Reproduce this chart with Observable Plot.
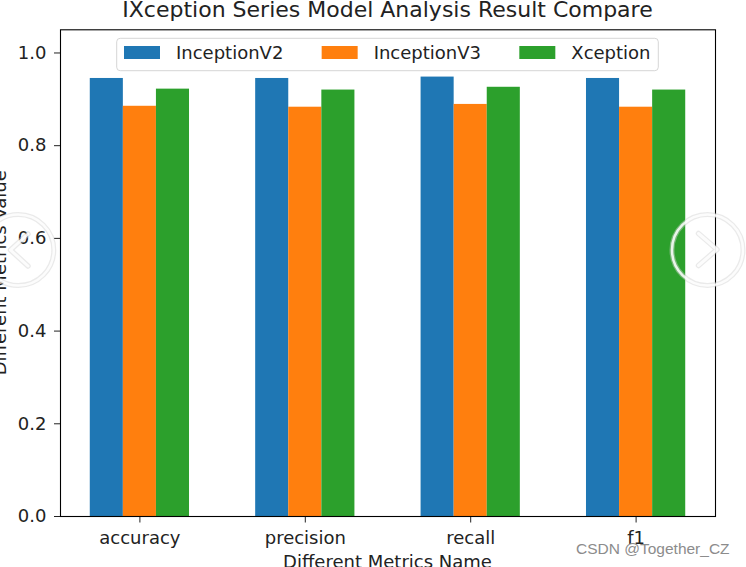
<!DOCTYPE html>
<html>
<head>
<meta charset="utf-8">
<script src="https://cdn.jsdelivr.net/npm/d3@7"></script>
<script src="https://cdn.jsdelivr.net/npm/@observablehq/plot@0.6"></script>
<style>
  html, body { margin: 0; padding: 0; background: #ffffff; }
  #wrap { position: relative; width: 746px; height: 567px; overflow: hidden; }
</style>
</head>
<body>
<div id="wrap"></div>
<script>
// ---- data ----
const metrics = ["accuracy", "precision", "recall", "f1"];
const models = ["InceptionV2", "InceptionV3", "Xception"];
const inceptionV2 = [0.945, 0.945, 0.948, 0.945];
const inceptionV3 = [0.885, 0.883, 0.889, 0.883];
const xception = [0.922, 0.920, 0.926, 0.920];
const colors = ["#1f77b4", "#ff7f0e", "#2ca02c"];
const yTicks = [0, 0.2, 0.4, 0.6, 0.8, 1.0];
const titleText = "IXception Series Model Analysis Result Compare";
const xLabel = "Different Metrics Name";
const yLabel = "Different Metrics Value";
const watermark = "CSDN @Together_CZ";

const barWidth = 0.2;
const series = [inceptionV2, inceptionV3, xception];
const rows = [];
models.forEach((m, j) => metrics.forEach((name, i) =>
  rows.push({metric: name, i, j, model: m, value: series[j][i]})));

const textColor = "#222222";

const plot = Plot.plot({
  width: 746,
  height: 567,
  marginLeft: 60,
  marginRight: 31,
  marginTop: 29.3,
  marginBottom: 51,
  style: {fontFamily: "DejaVu Sans", fontSize: "18px", color: textColor, background: "transparent", overflow: "visible"},
  x: {domain: [-0.48, 3.48], ticks: [0, 1, 2, 3], tickFormat: i => metrics[i], tickSize: 6.5, tickPadding: 8, label: null},
  y: {domain: [0, 1.05], ticks: yTicks, tickFormat: d3.format(".1f"), tickSize: 6, tickPadding: 8, label: null},
  color: {domain: models, range: colors},
  marks: [
    Plot.rectY(rows, {
      x1: d => d.i + (d.j - 1) * barWidth - barWidth / 2,
      x2: d => d.i + (d.j - 1) * barWidth + barWidth / 2,
      y1: 0,
      y2: "value",
      fill: "model",
      inset: 0
    }),
    Plot.frame({stroke: "#000000", strokeWidth: 1.1})
  ]
});

document.getElementById("wrap").appendChild(plot);
const svg = d3.select(plot);

// title
svg.append("text")
  .attr("x", 387.5).attr("y", 16.5)
  .attr("text-anchor", "middle")
  .attr("font-family", "DejaVu Sans").attr("font-size", 22)
  .attr("fill", textColor)
  .text(titleText);

// axis labels
svg.append("text")
  .attr("transform", "translate(6,272.7) rotate(-90)")
  .attr("text-anchor", "middle")
  .attr("font-family", "DejaVu Sans").attr("font-size", 18)
  .attr("fill", textColor)
  .text(yLabel);

svg.append("text")
  .attr("x", 387.5).attr("y", 568)
  .attr("text-anchor", "middle")
  .attr("font-family", "DejaVu Sans").attr("font-size", 18)
  .attr("fill", textColor)
  .text(xLabel);

// legend
const color = plot.scale("color");
const leg = svg.append("g").attr("text-anchor", "start");
leg.append("rect")
  .attr("x", 116.7).attr("y", 38.3).attr("width", 541.6).attr("height", 32.4)
  .attr("rx", 3.5)
  .attr("fill", "#ffffff").attr("fill-opacity", 0.8)
  .attr("stroke", "#d6d6d6").attr("stroke-width", 1);
let lx = 124;
color.domain.forEach((m, j) => {
  leg.append("rect")
    .attr("x", lx).attr("y", 46).attr("width", 36).attr("height", 13)
    .attr("fill", color.range[j]);
  const t = leg.append("text")
    .attr("x", lx + 52).attr("y", 59)
    .attr("text-anchor", "start")
    .attr("font-family", "DejaVu Sans").attr("font-size", 18)
    .attr("fill", textColor)
    .text(m);
  lx = lx + 52 + t.node().getComputedTextLength() + 38.3;
});

// watermark
svg.append("text")
  .attr("x", 576).attr("y", 554)
  .attr("text-anchor", "start")
  .attr("font-family", "Liberation Sans").attr("font-size", 15.5)
  .attr("fill", "#8c8c8c")
  .text(watermark);

// carousel overlay decorations
const deco = svg.append("g").attr("fill", "none").attr("stroke-linecap", "round").attr("stroke-linejoin", "round");
[[18.3, 250], [707.5, 250]].forEach(([cx, cy]) => {
  deco.append("circle").attr("cx", cx).attr("cy", cy).attr("r", 35.5)
    .attr("stroke", "#d0d0d0").attr("stroke-opacity", 0.45).attr("stroke-width", 5);
  deco.append("circle").attr("cx", cx).attr("cy", cy).attr("r", 35.5)
    .attr("stroke", "#ffffff").attr("stroke-opacity", 0.85).attr("stroke-width", 2.5);
});
["28,234 10.5,250 28,266", "698.5,233.5 717,249.5 698.5,265.5"].forEach(pts => {
  deco.append("polyline").attr("points", pts)
    .attr("stroke", "#d0d0d0").attr("stroke-opacity", 0.45).attr("stroke-width", 5.5);
  deco.append("polyline").attr("points", pts)
    .attr("stroke", "#ffffff").attr("stroke-opacity", 0.85).attr("stroke-width", 3);
});
</script>
</body>
</html>
